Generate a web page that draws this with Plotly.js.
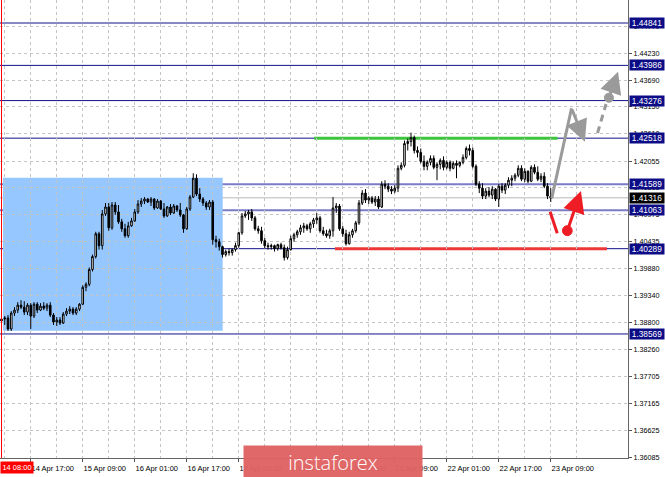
<!DOCTYPE html>
<html>
<head>
<meta charset="utf-8">
<script src="https://cdn.plot.ly/plotly-3.0.1.min.js"></script>
<style>
html,body{margin:0;padding:0;background:#fff;}
#chart{width:665px;height:477px;}
</style>
</head>
<body>
<div id="chart"></div>
<script>
// ---- DATA (H1 bars, first bar = 14 Apr 08:00) ----
const opens = [1.3883,1.3887,1.3889,1.3867,1.3899,1.3905,1.3915,1.3911,1.3901,1.3915,
1.3893,1.3917,1.3905,1.3913,1.3909,1.3915,1.3895,1.3881,1.3885,1.3879,
1.3897,1.3903,1.3907,1.3899,1.3907,1.3917,1.3951,1.3957,1.3987,1.4013,
1.4059,1.4035,1.4099,1.4113,1.4071,1.4117,1.4103,1.4083,1.4069,1.4055,
1.4075,1.4085,1.4103,1.4119,1.4125,1.4129,1.4123,1.4129,1.4111,1.4125,
1.4109,1.4095,1.4113,1.4101,1.4115,1.4107,1.4097,1.4069,1.4109,1.4133,
1.4171,1.4139,1.4129,1.4121,1.4113,1.4123,1.4047,1.4043,1.4033,1.4017,
1.4023,1.4021,1.4027,1.4035,1.4061,1.4095,1.4099,1.4103,1.4091,1.4069,
1.4065,1.4045,1.4035,1.4033,1.4035,1.4029,1.4037,1.4031,1.4011,1.4027,
1.4049,1.4057,1.4063,1.4071,1.4075,1.4069,1.4079,1.4087,1.4091,1.4065,
1.4059,1.4055,1.4065,1.4111,1.4115,1.4069,1.4059,1.4039,1.4057,1.4065,
1.4081,1.4121,1.4141,1.4127,1.4131,1.4123,1.4129,1.4113,1.4159,1.4155,
1.4149,1.4145,1.4151,1.4191,1.4197,1.4241,1.4245,1.4253,1.4227,1.4223,
1.4205,1.4195,1.4203,1.4211,1.4193,1.4199,1.4207,1.4193,1.4203,1.4191,
1.4201,1.4197,1.4203,1.4213,1.4231,1.4227,1.4195,1.4159,1.4151,1.4135,
1.4145,1.4137,1.4149,1.4129,1.4155,1.4147,1.4157,1.4167,1.4171,1.4177,
1.4191,1.4169,1.4185,1.4165,1.4193,1.4183,1.4169,1.4175,1.4155,1.4135];
const highs = [1.3891,1.3893,1.3895,1.3903,1.3911,1.3921,1.3925,1.3923,1.3919,1.3919,
1.3921,1.3921,1.3919,1.3921,1.3919,1.3921,1.3899,1.3891,1.3891,1.3901,
1.3909,1.3913,1.3911,1.3911,1.3919,1.3955,1.3961,1.3991,1.4017,1.4063,
1.4063,1.4107,1.4121,1.4121,1.4123,1.4123,1.4117,1.4089,1.4079,1.4083,
1.4091,1.4109,1.4127,1.4131,1.4133,1.4131,1.4133,1.4131,1.4129,1.4127,
1.4121,1.4115,1.4119,1.4119,1.4117,1.4121,1.4099,1.4113,1.4137,1.4181,
1.4179,1.4151,1.4133,1.4125,1.4127,1.4127,1.4055,1.4049,1.4035,1.4027,
1.4029,1.4029,1.4041,1.4063,1.4101,1.4105,1.4107,1.4109,1.4095,1.4075,
1.4073,1.4051,1.4041,1.4039,1.4037,1.4039,1.4041,1.4037,1.4033,1.4055,
1.4061,1.4067,1.4077,1.4081,1.4079,1.4083,1.4091,1.4101,1.4095,1.4073,
1.4067,1.4069,1.4133,1.4121,1.4119,1.4075,1.4067,1.4063,1.4069,1.4085,
1.4127,1.4147,1.4149,1.4135,1.4135,1.4135,1.4135,1.4165,1.4167,1.4161,
1.4155,1.4157,1.4197,1.4203,1.4247,1.4251,1.4263,1.4257,1.4235,1.4231,
1.4217,1.4207,1.4217,1.4217,1.4203,1.4211,1.4215,1.4207,1.4207,1.4205,
1.4207,1.4205,1.4219,1.4235,1.4239,1.4233,1.4199,1.4165,1.4161,1.4151,
1.4153,1.4155,1.4151,1.4159,1.4161,1.4161,1.4173,1.4177,1.4181,1.4197,
1.4197,1.4191,1.4187,1.4197,1.4199,1.4195,1.4181,1.4183,1.4161,1.4151];
const lows = [1.3875,1.3875,1.3863,1.3863,1.3893,1.3899,1.3907,1.3895,1.3895,1.3867,
1.3889,1.3899,1.3903,1.3905,1.3903,1.3891,1.3875,1.3873,1.3875,1.3877,
1.3893,1.3897,1.3895,1.3895,1.3903,1.3915,1.3943,1.3953,1.3983,1.4009,
1.4027,1.4027,1.4095,1.4065,1.4067,1.4097,1.4079,1.4063,1.4051,1.4051,
1.4073,1.4083,1.4099,1.4113,1.4119,1.4121,1.4115,1.4107,1.4109,1.4107,
1.4091,1.4093,1.4097,1.4099,1.4103,1.4093,1.4061,1.4067,1.4105,1.4131,
1.4135,1.4123,1.4115,1.4107,1.4107,1.4037,1.4031,1.4025,1.4011,1.4013,
1.4015,1.4015,1.4023,1.4031,1.4057,1.4091,1.4087,1.4085,1.4065,1.4059,
1.4039,1.4029,1.4027,1.4027,1.4023,1.4025,1.4027,1.4005,1.4007,1.4025,
1.4043,1.4051,1.4057,1.4061,1.4065,1.4061,1.4071,1.4079,1.4061,1.4055,
1.4051,1.4049,1.4053,1.4101,1.4065,1.4053,1.4035,1.4037,1.4051,1.4061,
1.4077,1.4117,1.4121,1.4119,1.4119,1.4115,1.4109,1.4111,1.4149,1.4143,
1.4139,1.4141,1.4143,1.4187,1.4193,1.4227,1.4235,1.4221,1.4213,1.4201,
1.4187,1.4187,1.4197,1.4189,1.4167,1.4189,1.4187,1.4189,1.4185,1.4189,
1.4171,1.4193,1.4199,1.4209,1.4217,1.4191,1.4155,1.4141,1.4129,1.4129,
1.4133,1.4129,1.4125,1.4113,1.4141,1.4139,1.4151,1.4155,1.4165,1.4173,
1.4165,1.4163,1.4161,1.4163,1.4179,1.4165,1.4163,1.4151,1.4129,1.4123];
const closes = [1.3887,1.3889,1.3867,1.3899,1.3905,1.3915,1.3911,1.3901,1.3915,1.3893,
1.3917,1.3905,1.3913,1.3909,1.3915,1.3895,1.3881,1.3885,1.3879,1.3897,
1.3903,1.3907,1.3899,1.3907,1.3917,1.3951,1.3957,1.3987,1.4013,1.4059,
1.4035,1.4099,1.4113,1.4071,1.4117,1.4103,1.4083,1.4069,1.4055,1.4075,
1.4085,1.4103,1.4119,1.4125,1.4129,1.4123,1.4129,1.4111,1.4125,1.4109,
1.4095,1.4113,1.4101,1.4115,1.4107,1.4097,1.4069,1.4109,1.4133,1.4171,
1.4139,1.4129,1.4121,1.4113,1.4123,1.4047,1.4043,1.4033,1.4017,1.4023,
1.4021,1.4027,1.4035,1.4061,1.4095,1.4099,1.4103,1.4091,1.4069,1.4065,
1.4045,1.4035,1.4033,1.4035,1.4029,1.4037,1.4031,1.4011,1.4027,1.4049,
1.4057,1.4063,1.4071,1.4075,1.4069,1.4079,1.4087,1.4091,1.4065,1.4059,
1.4055,1.4065,1.4111,1.4115,1.4069,1.4059,1.4039,1.4057,1.4065,1.4081,
1.4121,1.4141,1.4127,1.4131,1.4123,1.4129,1.4113,1.4159,1.4155,1.4149,
1.4145,1.4151,1.4191,1.4197,1.4241,1.4245,1.4253,1.4227,1.4223,1.4205,
1.4195,1.4203,1.4211,1.4193,1.4199,1.4207,1.4193,1.4203,1.4191,1.4201,
1.4197,1.4203,1.4213,1.4231,1.4227,1.4195,1.4159,1.4151,1.4135,1.4145,
1.4137,1.4149,1.4129,1.4155,1.4147,1.4157,1.4167,1.4171,1.4177,1.4191,
1.4169,1.4185,1.4165,1.4193,1.4183,1.4169,1.4175,1.4155,1.4135,1.4131];

const tickBars   = [9,25,41,57,73,89,105,121,137,153,169];
const tickLabels = ["14 Apr 17:00","15 Apr 09:00","16 Apr 01:00","16 Apr 17:00","17 Apr 09:00",
                    "20 Apr 01:00","20 Apr 17:00","21 Apr 09:00","22 Apr 01:00","22 Apr 17:00","23 Apr 09:00"];
const priceTicks = [1.44770,1.44230,1.43690,1.43150,1.42610,1.42055,1.41515,1.40975,1.40435,
                    1.39880,1.39340,1.38800,1.38260,1.37705,1.37165,1.36625,1.36085];
const levels      = [1.44841,1.43986,1.43276,1.42518,1.41589,1.41063,1.40289,1.38569];
const accentLevels = [1.41589,1.41063];
const currentPrice = 1.41316;
const markerTime = "14 08:00";
const brand = "instaforex";

// ---- BUILD ----
const bars = opens.map((_, i) => i);
const minorBars = [];
for (let b = 1; b <= 185; b += 16) minorBars.push(b);

const NAVY = '#10108a';
const shapes = [];
// zone rectangle
shapes.push({type:'rect', layer:'below', xref:'x', yref:'y', x0:0.46, x1:68.06, y0:1.38635, y1:1.41721,
  fillcolor:'#96c8ff', line:{width:0}});
// level lines
levels.forEach(v => {
  const acc = accentLevels.indexOf(v) >= 0;
  shapes.push({type:'line', layer:'below', xref:'paper', yref:'y', x0:0, x1:1, y0:v, y1:v,
    line:{color: acc ? '#7b7bc6' : NAVY, width: acc ? 2 : 1}});
});
// current price line
shapes.push({type:'line', layer:'below', xref:'paper', yref:'y', x0:0, x1:1, y0:currentPrice, y1:currentPrice,
  line:{color:'#cfcfcf', width:1.5}});
// green / red highlighted segments
shapes.push({type:'line', layer:'below', xref:'x', yref:'y', x0:96.2, x1:171.1, y0:levels[3], y1:levels[3],
  line:{color:'#3cc43c', width:3}});
shapes.push({type:'line', layer:'below', xref:'x', yref:'y', x0:102.6, x1:186.3, y0:levels[6], y1:levels[6],
  line:{color:'#ee3838', width:3}});
// red vertical marker line
shapes.push({type:'line', layer:'above', xref:'x', yref:'paper', x0:0, x1:0, y0:0, y1:1,
  line:{color:'#ff0000', width:1}});
// forecast drawings
const GREY = '#9a9a9a', RED = '#ee1c25';
shapes.push({type:'line', layer:'above', xref:'x', yref:'y', x0:169.3, y0:1.41305, x1:175.4, y1:1.43121,
  line:{color:GREY, width:3}});
shapes.push({type:'line', layer:'above', xref:'x', yref:'y', x0:183.4, y0:1.42622, x1:186.0, y1:1.43207,
  line:{color:GREY, width:3, dash:'7px,5px'}});
shapes.push({type:'circle', layer:'above', xref:'x', yref:'y', x0:185.5, x1:188.3, y0:1.43243, y1:1.43425,
  fillcolor:GREY, line:{color:GREY, width:1}});
shapes.push({type:'line', layer:'above', xref:'x', yref:'y', x0:168.8, y0:1.41035, x1:171.0, y1:1.40599,
  line:{color:RED, width:3}});
shapes.push({type:'circle', layer:'above', xref:'x', yref:'y', x0:172.6, x1:175.6, y0:1.40551, y1:1.40753,
  fillcolor:RED, line:{color:RED, width:1}});

const annotations = [];
function arrow(x, y, ax, ay, color) {
  annotations.push({x:x, y:y, ax:ax, ay:ay, xref:'x', yref:'y', axref:'x', ayref:'y', text:'',
    showarrow:true, arrowhead:2, arrowsize:1.45, arrowwidth:3, arrowcolor:color, standoff:0, startstandoff:0});
}
arrow(179.5, 1.42447, 175.4, 1.43121, GREY);
arrow(189.7, 1.43859, 186.9, 1.43334, GREY);
arrow(178.3, 1.41453, 174.1, 1.40652, RED);

// price labels on the right scale
const FONT = 'Liberation Sans, Arial, sans-serif';
levels.forEach(v => {
  annotations.push({xref:'paper', yref:'y', x:1, y:v, xanchor:'left', yanchor:'middle', xshift:1,
    text: v.toFixed(5), showarrow:false, bgcolor:'#0c0c86', borderpad:0, width:34,
    font:{family:FONT, size:8.3, color:'#ffffff'}});
});
annotations.push({xref:'paper', yref:'y', x:1, y:currentPrice, xanchor:'left', yanchor:'middle', xshift:1,
  text: currentPrice.toFixed(5), showarrow:false, bgcolor:'#000000', borderpad:0, width:34,
  font:{family:FONT, size:8.3, color:'#ffffff'}});
// red time label
annotations.push({xref:'paper', yref:'paper', x:0, y:-0.0197, xanchor:'left', yanchor:'middle',
  text: markerTime, showarrow:false, bgcolor:'#ff0000', borderpad:1, width:30,
  font:{family:FONT, size:7.5, color:'#ffffff'}});
// brand banner
annotations.push({xref:'paper', yref:'paper', x:0.5303, y:-0.0087, xanchor:'center', yanchor:'middle',
  text: brand, showarrow:false, bgcolor:'rgba(224,98,98,0.96)', width:176, height:30,
  font:{family:'Open Sans, Lato, sans-serif', size:20, weight:300, color:'#ffffff'}});

const trace = {
  type:'candlestick', x:bars, open:opens, high:highs, low:lows, close:closes,
  increasing:{line:{color:'#000000', width:1}, fillcolor:'#ffffff'},
  decreasing:{line:{color:'#000000', width:1}, fillcolor:'#000000'},
  whiskerwidth:0, hoverinfo:'skip', showlegend:false
};

const gridStyle = {showgrid:true, gridcolor:'#c4c4c4', gridwidth:1, griddash:'3px,3px'};

const layout = {
  width:665, height:477,
  margin:{l:0, r:37, t:0, b:19, pad:0},
  paper_bgcolor:'#ffffff', plot_bgcolor:'#ffffff',
  showlegend:false,
  xaxis:Object.assign({
    type:'linear', range:[-0.46, 192.77], rangeslider:{visible:false},
    tickmode:'array', tickvals:tickBars, ticktext:tickLabels,
    ticks:'outside', ticklen:3, tickcolor:'#555555', ticklabelshift:22, ticklabelstandoff:0,
    tickfont:{family:FONT, size:7.5, color:'#000000'},
    showline:true, linecolor:'#666666', linewidth:1, zeroline:false,
    minor:{tickmode:'array', tickvals:minorBars, showgrid:true, gridcolor:'#c4c4c4', griddash:'3px,3px', ticks:''}
  }, gridStyle),
  yaxis:Object.assign({
    side:'right', range:[1.36067, 1.45305],
    tickmode:'array', tickvals:priceTicks, ticktext:priceTicks.map(v => v.toFixed(5)),
    ticks:'outside', ticklen:3, tickcolor:'#555555',
    tickfont:{family:FONT, size:7.2, color:'#000000'},
    showline:true, linecolor:'#666666', linewidth:1, zeroline:false
  }, gridStyle),
  shapes:shapes,
  annotations:annotations
};

Plotly.newPlot('chart', [trace], layout, {displayModeBar:false, staticPlot:true});
</script>
</body>
</html>
